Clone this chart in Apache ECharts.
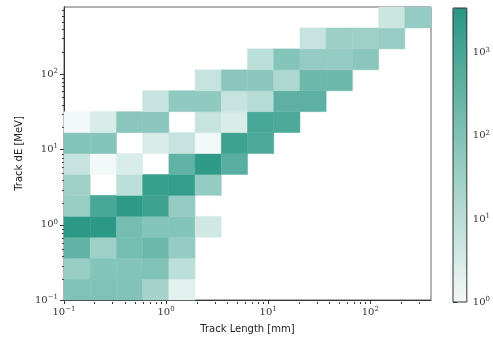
<!DOCTYPE html>
<html><head><meta charset="utf-8">
<script src="https://cdn.jsdelivr.net/npm/echarts@6/dist/echarts.min.js"></script>
<style>html,body{margin:0;padding:0;background:#fff}#c{width:493px;height:339px}</style>
</head><body><div id="c"></div>
<script>
// Bin edges (log-spaced)
const xEdges = [0.1, 0.1806, 0.3263, 0.5893, 1.0646, 1.923, 3.474, 6.275, 11.34, 20.48, 36.98, 66.81, 120.7, 218.0, 393.6];
const yEdges = [0.1, 0.1897, 0.3599, 0.683, 1.2954, 2.458, 4.664, 8.846, 16.78, 31.84, 60.39, 114.6, 217.4, 412.4, 783.4];
// Counts per y-bin (bottom row first), 14 x-bins each; 0 = empty
const row0  = [100, 100, 95, 22, 2, 0, 0, 0, 0, 0, 0, 0, 0, 0];
const row1  = [37, 83, 83, 100, 9, 0, 0, 0, 0, 0, 0, 0, 0, 0];
const row2  = [345, 30, 150, 230, 45, 0, 0, 0, 0, 0, 0, 0, 0, 0];
const row3  = [3000, 3000, 150, 83, 83, 4, 0, 0, 0, 0, 0, 0, 0, 0];
const row4  = [37, 950, 2600, 1400, 45, 0, 0, 0, 0, 0, 0, 0, 0, 0];
const row5  = [30, 0, 9, 1700, 2100, 45, 0, 0, 0, 0, 0, 0, 0, 0];
const row6  = [6, 1, 3, 0, 345, 2600, 500, 0, 0, 0, 0, 0, 0, 0];
const row7  = [83, 83, 0, 3, 6, 1, 1400, 770, 0, 0, 0, 0, 0, 0];
const row8  = [1, 3, 68, 68, 0, 6, 3, 950, 770, 0, 0, 0, 0, 0];
const row9  = [0, 0, 0, 6, 55, 55, 6, 11, 420, 420, 0, 0, 0, 0];
const row10 = [0, 0, 0, 0, 0, 6, 68, 68, 16, 230, 230, 0, 0, 0];
const row11 = [0, 0, 0, 0, 0, 0, 0, 9, 83, 45, 45, 68, 0, 0];
const row12 = [0, 0, 0, 0, 0, 0, 0, 0, 0, 6, 33, 30, 42, 0];
const row13 = [0, 0, 0, 0, 0, 0, 0, 0, 0, 0, 0, 0, 5, 45];
const rows = [row0,row1,row2,row3,row4,row5,row6,row7,row8,row9,row10,row11,row12,row13];
const xMajor = [0.1, 1, 10, 100];
const yMajor = [0.1, 1, 10, 100];
const cMajor = [1, 10, 100, 1000];
const cMin = 1, cMax = 3467;

const cells = [];
rows.forEach((r, j) => r.forEach((v, i) => {
  if (v > 0) cells.push([xEdges[i], xEdges[i+1], yEdges[j], yEdges[j+1], Math.log10(v), v]);
}));

function minorTicks(lo, hi) {
  const out = [];
  for (let e = -2; e <= 4; e++) for (let m = 2; m <= 9; m++) {
    const v = +(m * Math.pow(10, e)).toPrecision(3);
    if (v > lo && v < hi) out.push(v);
  }
  return out;
}
const FONT = 'DejaVu Serif';
const rich = {
  b: {fontFamily: FONT, fontSize: 10, color: '#333', lineHeight: 13},
  s: {fontFamily: FONT, fontSize: 7, color: '#333', verticalAlign: 'top', lineHeight: 13}
};
function powLabel(v) {
  const e = Math.round(Math.log10(v));
  return '{b|10}{s|' + (e < 0 ? '\u2212' + (-e) : String(e)) + '}';
}
const AX = '#333';
const G = {left: 64, top: 7, width: 367, height: 295};
const CB = {left: 453, top: 8, width: 14, height: 294};

const chart = echarts.init(document.getElementById('c'), null, {renderer: 'canvas'});
chart.setOption({
  animation: false,
  backgroundColor: '#fff',
  grid: [
    Object.assign({show: true, borderColor: '#666', borderWidth: 1, backgroundColor: 'transparent'}, G),
    Object.assign({}, G),
    Object.assign({show: true, borderColor: '#333', borderWidth: 1, backgroundColor: 'transparent', z: 10}, CB),
    Object.assign({}, CB)
  ],
  visualMap: [{
    type: 'continuous', seriesIndex: 0, dimension: 4,
    min: Math.log10(cMin), max: Math.log10(cMax),
    calculable: false, hoverLink: false,
    left: CB.left, top: CB.top, itemWidth: CB.width, itemHeight: CB.height,
    padding: 0, text: null, showLabel: false,
    inRange: {color: ['#f3f9f8', '#289784']}
  }],
  xAxis: [
    {type: 'log', gridIndex: 0, min: xEdges[0], max: xEdges[xEdges.length-1],
     name: 'Track Length [mm]', nameLocation: 'middle', nameGap: 24,
     nameTextStyle: {fontFamily: 'DejaVu Sans', fontSize: 10, color: '#222'},
     axisLine: {lineStyle: {color: AX, width: 1}},
     axisTick: {customValues: xMajor, length: 4, lineStyle: {color: AX}},
     axisLabel: {customValues: xMajor, formatter: powLabel, rich: rich, margin: 6},
     splitLine: {show: false}},
    {type: 'log', gridIndex: 1, min: xEdges[0], max: xEdges[xEdges.length-1],
     axisLine: {show: false},
     axisTick: {customValues: minorTicks(xEdges[0], xEdges[xEdges.length-1]), length: 2, lineStyle: {color: AX}},
     axisLabel: {show: false}, splitLine: {show: false}},
    {type: 'value', gridIndex: 2, show: false},
    {type: 'value', gridIndex: 3, show: false}
  ],
  yAxis: [
    {type: 'log', gridIndex: 0, min: yEdges[0], max: yEdges[yEdges.length-1],
     name: 'Track dE [MeV]', nameLocation: 'middle', nameGap: 37, nameRotate: 90,
     nameTextStyle: {fontFamily: 'DejaVu Sans', fontSize: 10, color: '#222'},
     axisLine: {show: true, lineStyle: {color: AX, width: 1}},
     axisTick: {show: true, customValues: yMajor, length: 4, lineStyle: {color: AX}},
     axisLabel: {customValues: yMajor, formatter: powLabel, rich: rich, margin: 6},
     splitLine: {show: false}},
    {type: 'log', gridIndex: 1, min: yEdges[0], max: yEdges[yEdges.length-1],
     axisLine: {show: false},
     axisTick: {show: true, customValues: minorTicks(yEdges[0], yEdges[yEdges.length-1]), length: 2, lineStyle: {color: AX}},
     axisLabel: {show: false}, splitLine: {show: false}},
    {type: 'log', gridIndex: 2, min: cMin, max: cMax, position: 'right',
     axisLine: {show: false},
     axisTick: {show: true, customValues: cMajor, length: 4, lineStyle: {color: AX}},
     axisLabel: {customValues: cMajor, formatter: powLabel, rich: rich, margin: 6},
     splitLine: {show: false}},
    {type: 'log', gridIndex: 3, min: cMin, max: cMax, position: 'right',
     axisLine: {show: false},
     axisTick: {show: true, customValues: minorTicks(cMin, cMax), length: 2, lineStyle: {color: AX}},
     axisLabel: {show: false}, splitLine: {show: false}}
  ],
  series: [{
    type: 'custom', xAxisIndex: 0, yAxisIndex: 0,
    data: cells,
    encode: {x: [0, 1], y: [2, 3]},
    renderItem: function (params, api) {
      const p0 = api.coord([api.value(0), api.value(2)]);
      const p1 = api.coord([api.value(1), api.value(3)]);
      const c = api.visual('color');
      return {type: 'rect',
        shape: {x: p0[0], y: p1[1], width: p1[0] - p0[0], height: p0[1] - p1[1]},
        style: {fill: c, stroke: c, lineWidth: 0.5}};
    }
  }]
});
</script></body></html>
